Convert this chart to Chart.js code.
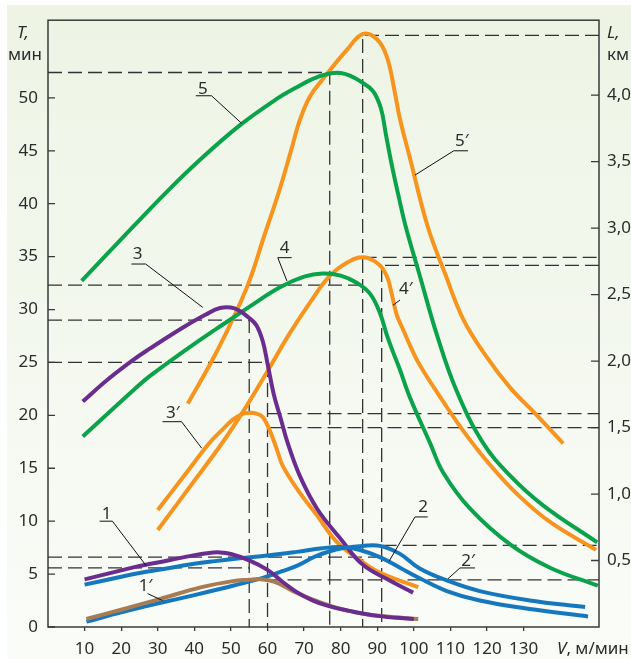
<!DOCTYPE html>
<html>
<head>
<meta charset="utf-8">
<script src="https://cdn.jsdelivr.net/npm/chart.js@4.4.0/dist/chart.umd.min.js"></script>
<style>
  html, body { margin: 0; padding: 0; background: #fff; }
  canvas { display: block; }
</style>
</head>
<body>
<canvas id="chart" width="631" height="659"></canvas>
<script>
// --- axes ---
const vTicks = [10, 20, 30, 40, 50, 60, 70, 80, 90, 100, 110, 120, 130];
const tTicks = [0, 5, 10, 15, 20, 25, 30, 35, 40, 45, 50];
const lTicks = [0.5, 1.0, 1.5, 2.0, 2.5, 3.0, 3.5, 4.0];
const V_MAX = 150.6, T_MAX = 57.34, L_MAX = 4.5636;

// --- curves: V (м/мин) -> T (мин) or L (км) ---
const v1  = [10, 20, 25, 30, 38.7, 44, 47, 50, 55, 60, 64, 68, 72.4, 77, 82, 90, 100];
const t1  = [4.5, 5.35, 5.76, 6.1, 6.7, 7.0, 7.05, 6.9, 6.3, 5.4, 4.3, 3.3, 2.5, 1.95, 1.55, 1.05, 0.75];
const v1p = [10.5, 20, 30.5, 42, 50.5, 55, 58, 62, 67, 72, 77, 84, 92, 101.2];
const l1p = [0.06, 0.13, 0.21, 0.30, 0.345, 0.355, 0.36, 0.34, 0.27, 0.21, 0.16, 0.11, 0.08, 0.06];

const v2  = [10, 20, 25, 32, 38.7, 45, 52.4, 60, 68, 75, 80, 85, 90.7, 96.2, 101.6, 109, 118, 131.7, 147.6];
const t2  = [4.0, 4.75, 5.1, 5.5, 5.9, 6.2, 6.5, 6.75, 7.1, 7.45, 7.55, 7.3, 6.6, 5.6, 4.6, 3.4, 2.5, 1.7, 1.0];
const v2p = [10.5, 20, 30.5, 40, 50.5, 58.7, 64, 68, 73, 77, 81, 86, 90.7, 96.2, 101.6, 109, 118, 131.7, 146.8];
const l2p = [0.04, 0.11, 0.18, 0.24, 0.31, 0.37, 0.42, 0.46, 0.53, 0.57, 0.595, 0.61, 0.61, 0.55, 0.44, 0.35, 0.27, 0.20, 0.15];

const v3  = [9.5, 16, 23.1, 27.8, 36.9, 43, 47, 51, 55, 57, 58.7, 60, 61.7, 63.6, 65.5, 68.8, 73.5, 79.8, 86, 93.4, 99.8];
const t3  = [21.3, 23.3, 25.2, 26.3, 28.3, 29.5, 30.15, 30.1, 29.2, 28.5, 27.0, 24.9, 22.0, 19.7, 17.4, 14.3, 11.2, 8.4, 5.9, 4.4, 3.25];
const v3p = [30, 37, 44, 47.5, 50.5, 53, 54.6, 57, 58.7, 60.6, 62.5, 64.2, 68.8, 73.5, 78.9, 84.4, 90.7, 101.2];
const l3p = [0.88, 1.13, 1.38, 1.48, 1.56, 1.60, 1.61, 1.605, 1.58, 1.48, 1.34, 1.21, 1.01, 0.84, 0.64, 0.52, 0.41, 0.30];

const v4  = [9.5, 23.1, 27.8, 36.9, 46.1, 50.5, 55.2, 63.4, 70, 75, 80, 84.5, 88, 90.7, 92.6, 94.4, 96, 98.9, 104.4, 108, 115.3, 126.3, 137.2, 150.3];
const t4  = [18.0, 22.3, 23.7, 26.0, 28.2, 29.2, 30.3, 32.1, 33.1, 33.4, 33.2, 32.5, 31.5, 29.7, 27.6, 25.9, 24.5, 21.7, 17.4, 14.6, 11.2, 7.8, 5.6, 3.9];
const v4p = [30, 40, 47.5, 54, 59.7, 66.1, 71.6, 77, 81.7, 86.2, 90.3, 92.6, 93.9, 95.3, 97, 99.4, 101.6, 107.9, 113.9, 120.8, 128.2, 137.2, 149.8];
const l4p = [0.73, 1.10, 1.38, 1.65, 1.91, 2.21, 2.44, 2.64, 2.74, 2.78, 2.73, 2.64, 2.51, 2.35, 2.24, 2.09, 1.97, 1.70, 1.46, 1.22, 1.00, 0.79, 0.58];

const v5  = [9.2, 23.2, 32.4, 41.4, 52.4, 62.5, 68, 72.4, 77, 80, 82.5, 85.2, 88.8, 91.0, 92.3, 94.0, 95.9, 97.8, 101.7, 106.3, 111.7, 118.9, 126.3, 135.3, 150.1];
const t5  = [32.7, 37.8, 41.1, 44.1, 47.4, 49.9, 51.0, 51.8, 52.3, 52.35, 52.1, 51.6, 50.65, 49.0, 46.65, 43.6, 40.6, 37.8, 33.1, 27.6, 22.3, 17.4, 14.3, 11.5, 8.0];
const v5p = [38.2, 46.1, 54.3, 59.2, 63.3, 66.6, 68.8, 71.6, 75.1, 81.7, 86.1, 89.9, 92.6, 94.8, 96.2, 98.9, 103.8, 108.5, 113.4, 119.4, 126.3, 133.7, 140.8];
const l5p = [1.68, 2.07, 2.55, 2.95, 3.29, 3.60, 3.81, 3.99, 4.12, 4.34, 4.46, 4.42, 4.29, 4.02, 3.82, 3.53, 3.01, 2.66, 2.32, 2.05, 1.80, 1.59, 1.38];

// dashed guide lines, [V, value] corners
const guides = [
  ['yT', [[0, 52.4], [77, 52.4], [77, 0]]],
  ['yL', [[V_MAX, 4.45], [86, 4.45], [86, 0]]],
  ['yT', [[0, 32.3], [86, 32.3]]],
  ['yT', [[0, 29], [55, 29], [55, 0]]],
  ['yT', [[0, 25], [60, 25], [60, 0]]],
  ['yL', [[86, 2.78], [V_MAX, 2.78]]],
  ['yL', [[V_MAX, 2.72], [91.2, 2.72], [91.2, 0]]],
  ['yL', [[60, 1.605], [V_MAX, 1.605]]],
  ['yL', [[60, 1.5], [V_MAX, 1.5]]],
  ['yT', [[0, 6.6], [91.2, 6.6]]],
  ['yL', [[86, 0.614], [V_MAX, 0.614]]],
  ['yT', [[0, 5.58], [55, 5.58]]],
  ['yL', [[60, 0.355], [V_MAX, 0.355]]],
];

// curve labels: text, anchor [V, T], leader polyline [V, T]
const labels = [
  ['5',  [42.3, 50.8],  [[40.4, 50.2], [44.7, 50.2], [52.9, 47.6]]],
  ['5′', [113.1, 45.9], [[114.8, 45.0], [110.9, 45.0], [100.3, 42.7]]],
  ['4',  [64.7, 35.8],  [[66.6, 34.9], [62.8, 34.9], [65.3, 32.7]]],
  ['4′', [97.8, 31.9],  [[96.2, 30.9], [94.3, 30.4]]],
  ['3',  [24.5, 35.2],  [[22.8, 34.3], [26.7, 34.3], [42.3, 30.2]]],
  ['3′', [34.1, 20.2],  [[31.3, 19.4], [36.5, 19.4], [42.0, 16.9]]],
  ['1',  [16.0, 10.7],  [[14.1, 10.0], [17.6, 10.0], [26.9, 5.76]]],
  ['1′', [26.7, 3.9],   [[27.2, 3.16], [31.3, 2.5]]],
  ['2',  [102.5, 11.3], [[103.8, 10.4], [100.3, 10.4], [93.2, 6.2]]],
  ['2′', [114.8, 6.2],  [[116.7, 5.58], [112.6, 5.58], [109.3, 4.55]]],
];

const GREEN = '#0ba24c', ORANGE = '#f7941d', PURPLE = '#6a2d8f', BLUE = '#1577bd', BROWN = '#a87c53';
const INK = '#2b2b2b', FONT = '"Noto Sans", sans-serif';

function curve(v, y, axis, color) {
  return {
    data: v.map((x, i) => ({ x: x, y: y[i] })),
    yAxisID: axis, borderColor: color, borderWidth: 4, borderCapStyle: 'butt',
    pointRadius: 0, tension: 0.4, fill: false, order: 0
  };
}

const datasets = [
  curve(v1, t1, 'yT', PURPLE),
  curve(v1p, l1p, 'yL', BROWN),
  curve(v2, t2, 'yT', BLUE),
  curve(v2p, l2p, 'yL', BLUE),
  curve(v3, t3, 'yT', PURPLE),
  curve(v3p, l3p, 'yL', ORANGE),
  curve(v4, t4, 'yT', GREEN),
  curve(v4p, l4p, 'yL', ORANGE),
  curve(v5, t5, 'yT', GREEN),
  curve(v5p, l5p, 'yL', ORANGE),
];
guides.forEach(g => datasets.push({
  data: g[1].map(p => ({ x: p[0], y: p[1] })),
  yAxisID: g[0], borderColor: '#333', borderWidth: 1.3, borderDash: [14, 6],
  pointRadius: 0, tension: 0, fill: false, order: 1
}));

// background panel
const bgPlugin = {
  id: 'bg',
  beforeDraw(chart) {
    const ctx = chart.ctx;
    ctx.save();
    ctx.fillStyle = '#fff';
    ctx.fillRect(0, 0, chart.width, chart.height);
    const g = ctx.createLinearGradient(0, 5, 0, chart.height);
    g.addColorStop(0, '#edf4e4');
    g.addColorStop(1, '#fafcf8');
    ctx.fillStyle = g;
    ctx.fillRect(7, 5, chart.width - 7, chart.height - 5);
    ctx.restore();
  }
};

// frame, inward ticks, curve labels, axis titles
const framePlugin = {
  id: 'frame',
  beforeDatasetsDraw(chart) {
    const { ctx, chartArea: a, scales } = chart;
    ctx.save();
    ctx.strokeStyle = '#3a3a3a';
    ctx.lineWidth = 1.5;
    ctx.strokeRect(a.left, a.top, a.right - a.left, a.bottom - a.top);
    ctx.lineWidth = 1.3;
    ctx.beginPath();
    tTicks.forEach(t => {
      const y = scales.yT.getPixelForValue(t);
      ctx.moveTo(a.left, y); ctx.lineTo(a.left + 7, y);
    });
    lTicks.forEach(l => {
      const y = scales.yL.getPixelForValue(l);
      ctx.moveTo(a.right - 8, y); ctx.lineTo(a.right, y);
    });
    ctx.stroke();
    ctx.restore();
  },
  afterDatasetsDraw(chart) {
    const { ctx, scales } = chart;
    const px = p => [scales.x.getPixelForValue(p[0]), scales.yT.getPixelForValue(p[1])];
    ctx.save();
    ctx.strokeStyle = '#111';
    ctx.lineWidth = 1;
    ctx.fillStyle = INK;
    ctx.font = '17px ' + FONT;
    ctx.textAlign = 'center';
    ctx.textBaseline = 'middle';
    labels.forEach(([txt, at, line]) => {
      ctx.beginPath();
      line.forEach((p, i) => {
        const [x, y] = px(p);
        if (i === 0) ctx.moveTo(x, y); else ctx.lineTo(x, y);
      });
      ctx.stroke();
      const [x, y] = px(at);
      ctx.fillText(txt, x, y);
    });
    ctx.restore();
  },
  afterDraw(chart) {
    const ctx = chart.ctx;
    ctx.save();
    ctx.fillStyle = INK;
    ctx.textBaseline = 'alphabetic';
    ctx.textAlign = 'left';
    ctx.font = 'italic 17px ' + FONT;
    ctx.fillText('T,', 17, 38);
    ctx.fillText('L,', 607, 38);
    ctx.font = '17px ' + FONT;
    ctx.fillText('мин', 8, 60);
    ctx.fillText('км', 607, 60);
    ctx.font = 'italic 17px ' + FONT;
    ctx.fillText('V', 557, 654);
    const w = ctx.measureText('V').width;
    ctx.font = '17px ' + FONT;
    ctx.fillText(', м/мин', 557 + w, 654);
    ctx.restore();
  }
};

Chart.defaults.font.family = FONT;
Chart.defaults.font.size = 17;
Chart.defaults.color = INK;

new Chart(document.getElementById('chart'), {
  type: 'line',
  data: { datasets },
  options: {
    responsive: false,
    animation: false,
    devicePixelRatio: 1,
    layout: { padding: { top: 10, left: 0, right: 0, bottom: 0 } },
    plugins: { legend: { display: false }, tooltip: { enabled: false } },
    scales: {
      x: {
        type: 'linear', min: 0, max: V_MAX,
        afterBuildTicks: s => { s.ticks = vTicks.map(v => ({ value: v })); },
        afterFit: s => { s.height = 32; },
        grid: { display: true, drawOnChartArea: false, drawTicks: true, tickLength: 4, color: '#3a3a3a', lineWidth: 1.3 },
        border: { display: false },
        ticks: { padding: 8, maxRotation: 0, autoSkip: false }
      },
      yT: {
        type: 'linear', position: 'left', min: 0, max: T_MAX,
        afterBuildTicks: s => { s.ticks = tTicks.map(v => ({ value: v })); },
        afterFit: s => { s.width = 48; },
        grid: { display: false, drawTicks: false },
        border: { display: false },
        ticks: { padding: 10, autoSkip: false }
      },
      yL: {
        type: 'linear', position: 'right', min: 0, max: L_MAX,
        afterBuildTicks: s => { s.ticks = lTicks.map(v => ({ value: v })); },
        afterFit: s => { s.width = 32; },
        grid: { display: false, drawTicks: false },
        border: { display: false },
        ticks: { padding: 8, autoSkip: false, callback: v => v.toFixed(1).replace('.', ',') }
      }
    }
  },
  plugins: [bgPlugin, framePlugin]
});
</script>
</body>
</html>
